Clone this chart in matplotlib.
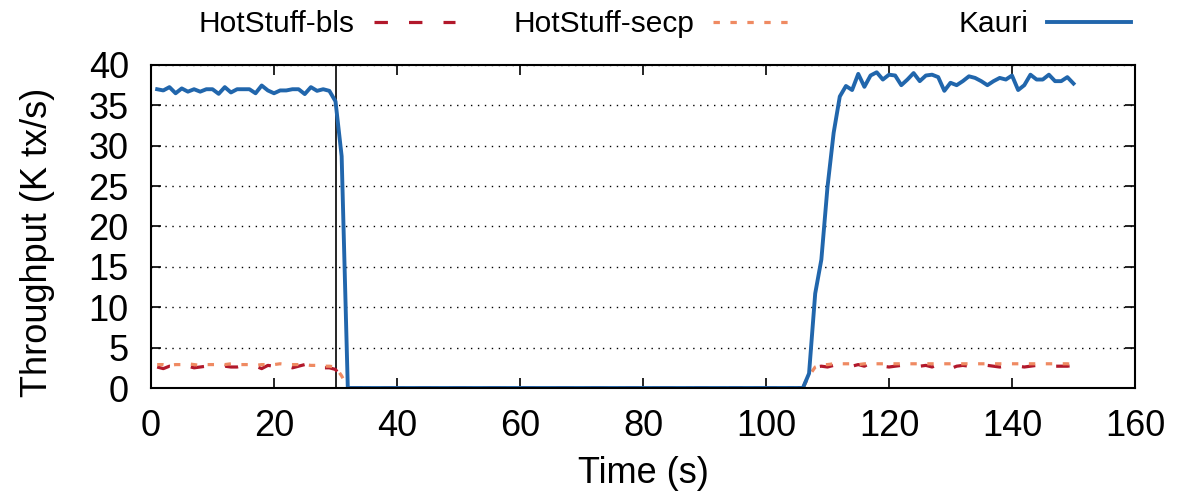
import matplotlib
matplotlib.use("Agg")
import matplotlib.pyplot as plt

plt.rcParams['font.family'] = ['Liberation Sans', 'DejaVu Sans']

# ---- data ----
time_s = list(range(1, 151))

kauri_before = [37.0, 36.85, 37.26, 36.5, 37.1, 36.7, 37.0, 36.7, 37.0, 37.0,
                36.43, 37.26, 36.6, 37.0, 37.0, 37.0, 36.5, 37.46, 36.85, 36.5,
                36.85, 36.85, 37.0, 37.0, 36.4, 37.26, 36.8, 37.0, 36.8, 35.5, 28.7]
kauri_outage = [0.0] * 75
kauri_after = [1.8, 11.7, 15.9, 24.9, 31.6, 36.1, 37.4, 36.9, 38.9, 37.3,
               38.7, 39.1, 38.2, 38.8, 38.7, 37.5, 38.2, 39.0, 38.0, 38.7,
               38.8, 38.5, 36.8, 37.8, 37.5, 38.0, 38.6, 38.4, 38.0, 37.5,
               38.0, 38.4, 38.2, 38.7, 36.9, 37.5, 38.8, 38.2, 38.2, 38.8,
               38.0, 38.0, 38.5, 37.7]

bls_before = [2.6, 2.4, 2.7, 2.6, 2.7, 2.7, 2.5, 2.6, 2.7, 2.6,
              2.5, 2.7, 2.6, 2.6, 2.8, 2.6, 2.7, 2.4, 2.8, 2.7,
              2.6, 2.7, 2.5, 2.7, 2.9, 2.6, 2.7, 2.5, 2.5, 2.3, 1.2]
bls_outage = [0.0] * 75
bls_after = [1.8, 2.6, 2.7, 2.6, 2.8, 2.7, 2.6, 2.7, 2.9, 2.7,
             3.1, 2.8, 2.7, 2.6, 2.7, 2.8, 2.7, 2.6, 2.7, 2.8,
             2.6, 2.9, 2.7, 2.4, 2.7, 2.8, 2.7, 2.6, 2.7, 2.8,
             2.7, 2.6, 2.7, 2.8, 2.7, 2.6, 2.7, 2.8, 2.7, 2.6,
             2.7, 2.7, 2.7, 2.8]

secp_before = [2.9, 2.9, 2.8, 2.9, 2.9, 3.0, 2.9, 2.8, 2.9, 2.9,
               2.9, 2.9, 3.0, 2.9, 2.9, 2.9, 2.8, 2.9, 2.9, 2.9,
               3.0, 2.9, 2.9, 2.9, 2.9, 2.8, 2.8, 2.7, 2.7, 2.6, 1.5]
secp_outage = [0.0] * 75
secp_after = [1.5, 2.6, 2.9, 2.9, 3.0, 3.0, 3.0, 3.0, 2.9, 3.0,
              3.0, 3.0, 3.0, 3.0, 3.0, 3.0, 3.0, 3.0, 3.0, 3.0,
              3.0, 3.0, 3.0, 3.0, 3.0, 3.0, 3.0, 3.0, 3.0, 3.0,
              3.0, 3.0, 3.0, 3.0, 3.0, 3.0, 3.0, 3.0, 3.0, 3.0,
              3.0, 3.0, 3.0, 2.9]

kauri = kauri_before + kauri_outage + kauri_after
hotstuff_bls = bls_before + bls_outage + bls_after
hotstuff_secp = secp_before + secp_outage + secp_after

fault_time = 30
x_ticks = [0, 20, 40, 60, 80, 100, 120, 140, 160]
y_ticks = [0, 5, 10, 15, 20, 25, 30, 35, 40]

# ---- figure ----
fig = plt.figure(figsize=(11.81, 4.99), dpi=100)
ax = fig.add_axes([151 / 1181, 1 - 388 / 499, (1135 - 151) / 1181, (388 - 65) / 499])

c_bls = '#b2182b'
c_secp = '#ef8a62'
c_kauri = '#2166ac'

l_bls, = ax.plot(time_s, hotstuff_bls, color=c_bls, lw=2.3, dashes=(4.2, 6.6),
                 label='HotStuff-bls')
l_secp, = ax.plot(time_s, hotstuff_secp, color=c_secp, lw=2.3, dashes=(2.0, 3.3),
                  label='HotStuff-secp')
l_kauri, = ax.plot(time_s, kauri, color=c_kauri, lw=2.8, label='Kauri')

ax.axvline(fault_time, color='black', lw=1.2, zorder=1)

ax.set_xlim(0, 160)
ax.set_ylim(0, 40)
ax.set_xticks(x_ticks)
ax.set_yticks(y_ticks)
ax.yaxis.grid(True, linestyle=(0, (1, 4)), color='black', lw=1.0)
ax.set_axisbelow(True)

ax.tick_params(axis='both', which='major', direction='in', length=7, width=1.2,
               top=True, right=True, labelsize=26)
ax.tick_params(axis='x', pad=15)
ax.tick_params(axis='y', pad=16)
for s in ax.spines.values():
    s.set_linewidth(1.5)

ax.set_xlabel('Time (s)', fontsize=26, labelpad=9)
ax.set_ylabel('Throughput (K tx/s)', fontsize=26)
ax.yaxis.set_label_coords(-0.098, 0.45)

# gnuplot-style key: text followed by sample
for handle, right_px, hl in [(l_bls, 455, 2.7), (l_secp, 788, 2.5), (l_kauri, 1131, 2.8)]:
    fig.legend(handles=[handle], loc='center right',
               bbox_to_anchor=(right_px / 1181, 1 - 24 / 499),
               frameon=False, markerfirst=False, fontsize=21.5,
               handlelength=hl, handletextpad=0.65, borderaxespad=0,
               borderpad=0)

fig.savefig('out.png', dpi=100)
